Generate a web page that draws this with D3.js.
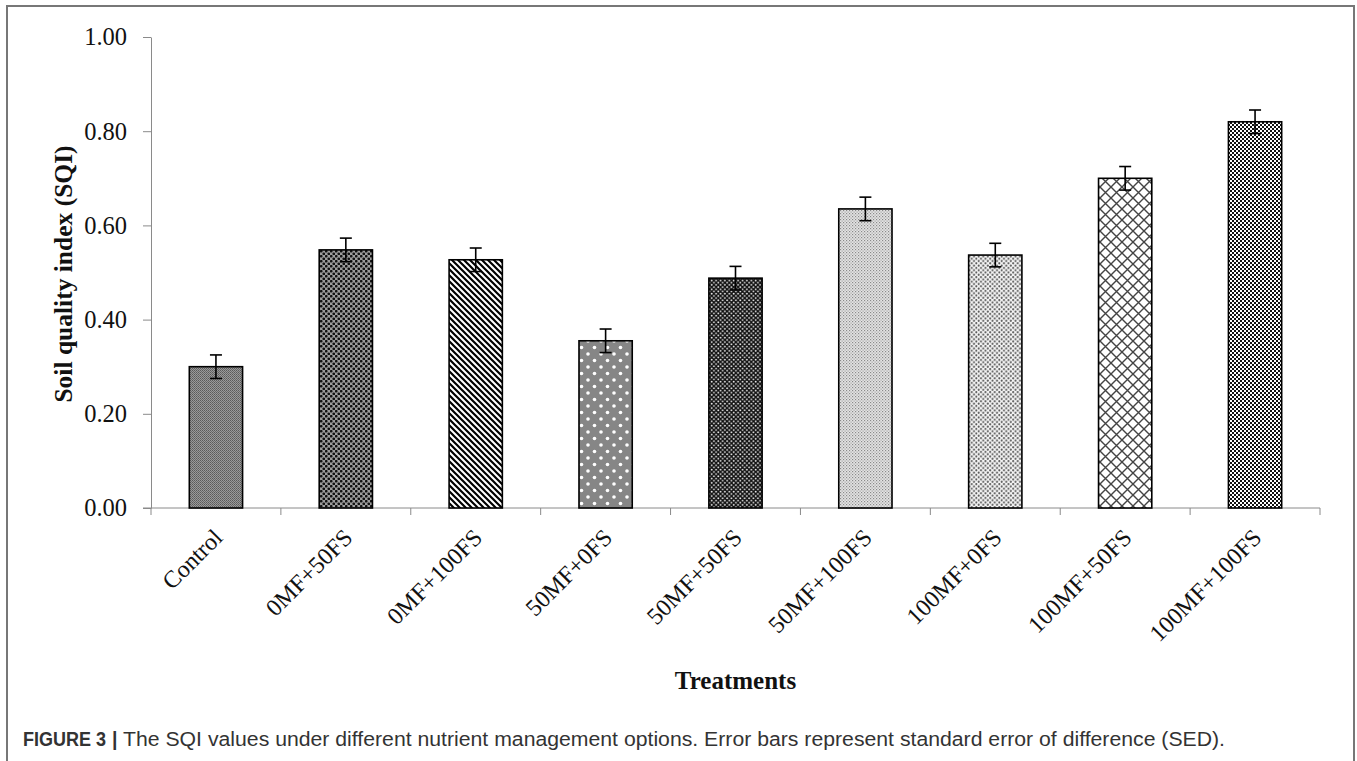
<!DOCTYPE html>
<html lang="en">
<head>
<meta charset="UTF-8">
<title>SQI values</title>
<script src="https://d3js.org/d3.v7.min.js"></script>
<style>
  body { margin: 0; background: #fff; }
  svg { display: block; }
</style>
</head>
<body>
<svg id="chart" width="1357" height="761"></svg>
<script>
// values
const categories = ["Control", "0MF+50FS", "0MF+100FS", "50MF+0FS", "50MF+50FS",
                    "50MF+100FS", "100MF+0FS", "100MF+50FS", "100MF+100FS"];
const sqi = [0.30, 0.548, 0.527, 0.355, 0.488, 0.635, 0.537, 0.70, 0.82];
const sed = [0.025, 0.025, 0.025, 0.025, 0.025, 0.025, 0.025, 0.025, 0.025];
const yTicks = [0, 0.2, 0.4, 0.6, 0.8, 1.0];

const svg = d3.select("#chart");
const serif = "'Liberation Serif', 'Times New Roman', serif";
const sans = "'Liberation Sans', Arial, sans-serif";
const axisGrey = "#8a8a8a";

// outer figure frame
svg.append("rect")
    .attr("x", 7).attr("y", 6)
    .attr("width", 1347).attr("height", 800)
    .attr("fill", "none")
    .attr("stroke", "#777")
    .attr("stroke-width", 2);

// ---- fill patterns, one per treatment ----
const defs = svg.append("defs");
function pat(id, size, bg) {
    const p = defs.append("pattern")
        .attr("id", id)
        .attr("patternUnits", "userSpaceOnUse")
        .attr("width", size).attr("height", size);
    p.append("rect").attr("width", size).attr("height", size).attr("fill", bg);
    return p;
}
// Control: fine grey weave
let p = pat("p0", 2, "#9a9a9a");
p.append("rect").attr("width", 1).attr("height", 1).attr("fill", "#5a5a5a");
p.append("rect").attr("x", 1).attr("y", 1).attr("width", 1).attr("height", 1).attr("fill", "#6a6a6a");
// 0MF+50FS: black dots on grey
p = pat("p1", 5, "#9c9c9c");
p.append("circle").attr("cx", 1.25).attr("cy", 1.25).attr("r", 1.35).attr("fill", "#111");
p.append("circle").attr("cx", 3.75).attr("cy", 3.75).attr("r", 1.35).attr("fill", "#111");
// 0MF+100FS: diagonal stripes
p = pat("p2", 6, "#fff");
p.append("path").attr("d", "M-1,-1 L7,7 M-1,5 L1,7 M5,-1 L7,1")
    .attr("stroke", "#000").attr("stroke-width", 2.2);
// 50MF+0FS: grey with sparse white dots
p = pat("p3", 13, "#7e7e7e");
p.append("rect").attr("width", 13).attr("height", 13).attr("fill", "#8d8d8d").attr("opacity", 0.5);
p.append("circle").attr("cx", 3).attr("cy", 3).attr("r", 1.8).attr("fill", "#fff");
p.append("circle").attr("cx", 9.5).attr("cy", 9.5).attr("r", 1.8).attr("fill", "#fff");
// 50MF+50FS: black with white dots
p = pat("p4", 4.4, "#111");
p.append("circle").attr("cx", 1.1).attr("cy", 1.1).attr("r", 0.95).attr("fill", "#e8e8e8");
p.append("circle").attr("cx", 3.3).attr("cy", 3.3).attr("r", 0.95).attr("fill", "#e8e8e8");
// 50MF+100FS: light grey fine dots
p = pat("p5", 3, "#e4e4e4");
p.append("rect").attr("x", 0).attr("y", 0).attr("width", 1.2).attr("height", 1.2).attr("fill", "#8a8a8a");
p.append("rect").attr("x", 1.5).attr("y", 1.5).attr("width", 1.2).attr("height", 1.2).attr("fill", "#a0a0a0");
// 100MF+0FS: white with grey dots
p = pat("p6", 4.6, "#f6f6f6");
p.append("circle").attr("cx", 1.15).attr("cy", 1.15).attr("r", 1.05).attr("fill", "#555");
p.append("circle").attr("cx", 3.45).attr("cy", 3.45).attr("r", 1.05).attr("fill", "#555");
// 100MF+50FS: open diagonal crosshatch
p = pat("p7", 11, "#fff");
p.append("path").attr("d", "M0,0 L11,11 M11,0 L0,11")
    .attr("stroke", "#444").attr("stroke-width", 1.4);
// 100MF+100FS: black/white diamond checker
p = pat("p8", 4, "#fff");
p.append("rect").attr("width", 2).attr("height", 2).attr("fill", "#111");
p.append("rect").attr("x", 2).attr("y", 2).attr("width", 2).attr("height", 2).attr("fill", "#111");

// ---- scales ----
const y = d3.scaleLinear().domain([0, 1]).range([508, 37]);
const xBand = d3.scaleBand().domain(categories).range([151, 1320]);
const x = d3.scaleBand().domain(categories).range([151, 1320])
    .paddingInner(0.59).paddingOuter(0.295);

// y axis
const yAxis = svg.append("g")
    .attr("transform", "translate(151,0)")
    .call(d3.axisLeft(y).tickValues(yTicks).tickFormat(d3.format(".2f"))
        .tickSize(8).tickSizeOuter(0).tickPadding(16));
yAxis.select(".domain").attr("stroke", axisGrey);
yAxis.selectAll(".tick line").attr("stroke", axisGrey);
yAxis.selectAll("text")
    .attr("font-family", serif).attr("font-size", 24.5).attr("fill", "#111");

// x axis: line plus boundary ticks
svg.append("line")
    .attr("x1", 143).attr("x2", 1320)
    .attr("y1", y(0)).attr("y2", y(0))
    .attr("stroke", axisGrey);
const bounds = categories.map(c => xBand(c)).concat([xBand.range()[1]]);
svg.append("g").selectAll("line")
    .data(bounds)
    .join("line")
    .attr("x1", d => d).attr("x2", d => d)
    .attr("y1", y(0)).attr("y2", y(0) + 7)
    .attr("stroke", axisGrey);

// bars
svg.append("g").selectAll("rect")
    .data(categories)
    .join("rect")
    .attr("x", d => x(d))
    .attr("y", (d, i) => y(sqi[i]))
    .attr("width", x.bandwidth())
    .attr("height", (d, i) => y(0) - y(sqi[i]))
    .attr("fill", (d, i) => `url(#p${i})`)
    .attr("stroke", "#000")
    .attr("stroke-width", 1.6);

// error bars
const eb = svg.append("g").attr("stroke", "#000").attr("stroke-width", 1.6);
categories.forEach((c, i) => {
    const cx = x(c) + x.bandwidth() / 2;
    const top = y(sqi[i] + sed[i]), bot = y(sqi[i] - sed[i]);
    eb.append("line").attr("x1", cx).attr("x2", cx).attr("y1", top).attr("y2", bot);
    eb.append("line").attr("x1", cx - 6).attr("x2", cx + 6).attr("y1", top).attr("y2", top);
    eb.append("line").attr("x1", cx - 6).attr("x2", cx + 6).attr("y1", bot).attr("y2", bot);
});

// rotated category labels
svg.append("g").selectAll("text")
    .data(categories)
    .join("text")
    .attr("transform", d => {
        const cx = xBand(d) + xBand.bandwidth() / 2 + 8;
        return `translate(${cx},${y(0) + 31}) rotate(-45)`;
    })
    .attr("text-anchor", "end")
    .attr("font-family", serif)
    .attr("font-size", 24)
    .attr("fill", "#111")
    .text(d => d);

// axis titles
svg.append("text")
    .attr("x", (151 + 1320) / 2).attr("y", 689)
    .attr("text-anchor", "middle")
    .attr("font-family", serif).attr("font-size", 25).attr("font-weight", "bold")
    .attr("fill", "#111")
    .text("Treatments");

svg.append("text")
    .attr("transform", `translate(72,274) rotate(-90)`)
    .attr("text-anchor", "middle")
    .attr("font-family", serif).attr("font-size", 25.5).attr("font-weight", "bold")
    .attr("fill", "#111")
    .text("Soil quality index (SQI)");

// caption
svg.append("text")
    .attr("x", 23).attr("y", 746)
    .attr("font-family", sans).attr("font-size", 19.5).attr("font-weight", "bold")
    .attr("fill", "#333")
    .attr("textLength", 83).attr("lengthAdjust", "spacingAndGlyphs")
    .text("FIGURE 3");
svg.append("text")
    .attr("x", 112).attr("y", 746)
    .attr("font-family", sans).attr("font-size", 19.5).attr("font-weight", "bold")
    .attr("fill", "#333")
    .text("|");
svg.append("text")
    .attr("x", 123).attr("y", 746)
    .attr("font-family", sans).attr("font-size", 20)
    .attr("fill", "#333")
    .attr("textLength", 1102).attr("lengthAdjust", "spacingAndGlyphs")
    .text("The SQI values under different nutrient management options. Error bars represent standard error of difference (SED).");
</script>
</body>
</html>
